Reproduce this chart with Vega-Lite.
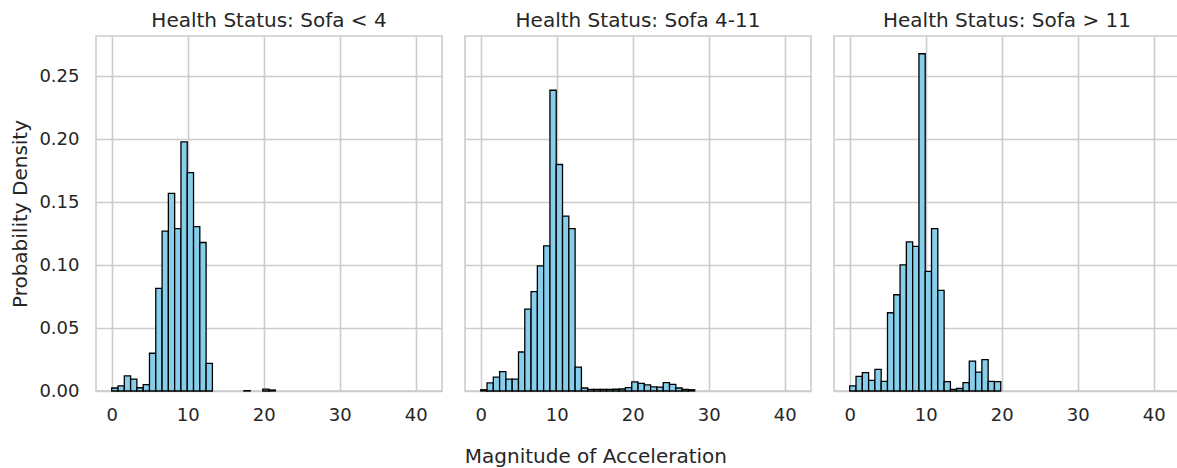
{
  "$schema": "https://vega.github.io/schema/vega-lite/v6.json",
  "padding": {"left": 10, "top": 11, "right": 0, "bottom": 2},
  "background": "white",
  "title": {"text": "Magnitude of Acceleration", "orient": "bottom", "anchor": "middle", "fontSize": 20, "fontWeight": "normal", "color": "#262626", "font": "DejaVu Sans", "offset": 23},
  "data": {"values": [
    {"panel": "Health Status: Sofa < 4", "start": 0, "end": 0.828, "density": 0.0024},
    {"panel": "Health Status: Sofa < 4", "start": 0.828, "end": 1.656, "density": 0.004},
    {"panel": "Health Status: Sofa < 4", "start": 1.656, "end": 2.484, "density": 0.012},
    {"panel": "Health Status: Sofa < 4", "start": 2.484, "end": 3.312, "density": 0.0095},
    {"panel": "Health Status: Sofa < 4", "start": 3.312, "end": 4.14, "density": 0.0026},
    {"panel": "Health Status: Sofa < 4", "start": 4.14, "end": 4.968, "density": 0.005},
    {"panel": "Health Status: Sofa < 4", "start": 4.968, "end": 5.796, "density": 0.030},
    {"panel": "Health Status: Sofa < 4", "start": 5.796, "end": 6.624, "density": 0.0815},
    {"panel": "Health Status: Sofa < 4", "start": 6.624, "end": 7.452, "density": 0.127},
    {"panel": "Health Status: Sofa < 4", "start": 7.452, "end": 8.28, "density": 0.157},
    {"panel": "Health Status: Sofa < 4", "start": 8.28, "end": 9.108, "density": 0.129},
    {"panel": "Health Status: Sofa < 4", "start": 9.108, "end": 9.936, "density": 0.198},
    {"panel": "Health Status: Sofa < 4", "start": 9.936, "end": 10.764, "density": 0.1736},
    {"panel": "Health Status: Sofa < 4", "start": 10.764, "end": 11.592, "density": 0.1306},
    {"panel": "Health Status: Sofa < 4", "start": 11.592, "end": 12.42, "density": 0.118},
    {"panel": "Health Status: Sofa < 4", "start": 12.42, "end": 13.248, "density": 0.0219},
    {"panel": "Health Status: Sofa < 4", "start": 17.388, "end": 18.216, "density": 0.0003},
    {"panel": "Health Status: Sofa < 4", "start": 19.872, "end": 20.7, "density": 0.0015},
    {"panel": "Health Status: Sofa < 4", "start": 20.7, "end": 21.528, "density": 0.0008},

    {"panel": "Health Status: Sofa 4-11", "start": 0, "end": 0.828, "density": 0.001},
    {"panel": "Health Status: Sofa 4-11", "start": 0.828, "end": 1.656, "density": 0.0064},
    {"panel": "Health Status: Sofa 4-11", "start": 1.656, "end": 2.484, "density": 0.011},
    {"panel": "Health Status: Sofa 4-11", "start": 2.484, "end": 3.312, "density": 0.0154},
    {"panel": "Health Status: Sofa 4-11", "start": 3.312, "end": 4.14, "density": 0.0095},
    {"panel": "Health Status: Sofa 4-11", "start": 4.14, "end": 4.968, "density": 0.0095},
    {"panel": "Health Status: Sofa 4-11", "start": 4.968, "end": 5.796, "density": 0.031},
    {"panel": "Health Status: Sofa 4-11", "start": 5.796, "end": 6.624, "density": 0.065},
    {"panel": "Health Status: Sofa 4-11", "start": 6.624, "end": 7.452, "density": 0.079},
    {"panel": "Health Status: Sofa 4-11", "start": 7.452, "end": 8.28, "density": 0.0995},
    {"panel": "Health Status: Sofa 4-11", "start": 8.28, "end": 9.108, "density": 0.1154},
    {"panel": "Health Status: Sofa 4-11", "start": 9.108, "end": 9.936, "density": 0.239},
    {"panel": "Health Status: Sofa 4-11", "start": 9.936, "end": 10.764, "density": 0.180},
    {"panel": "Health Status: Sofa 4-11", "start": 10.764, "end": 11.592, "density": 0.139},
    {"panel": "Health Status: Sofa 4-11", "start": 11.592, "end": 12.42, "density": 0.129},
    {"panel": "Health Status: Sofa 4-11", "start": 12.42, "end": 13.248, "density": 0.019},
    {"panel": "Health Status: Sofa 4-11", "start": 13.248, "end": 14.076, "density": 0.0024},
    {"panel": "Health Status: Sofa 4-11", "start": 14.076, "end": 14.904, "density": 0.0013},
    {"panel": "Health Status: Sofa 4-11", "start": 14.904, "end": 15.732, "density": 0.0013},
    {"panel": "Health Status: Sofa 4-11", "start": 15.732, "end": 16.56, "density": 0.0013},
    {"panel": "Health Status: Sofa 4-11", "start": 16.56, "end": 17.388, "density": 0.0013},
    {"panel": "Health Status: Sofa 4-11", "start": 17.388, "end": 18.216, "density": 0.0014},
    {"panel": "Health Status: Sofa 4-11", "start": 18.216, "end": 19.044, "density": 0.0016},
    {"panel": "Health Status: Sofa 4-11", "start": 19.044, "end": 19.872, "density": 0.0027},
    {"panel": "Health Status: Sofa 4-11", "start": 19.872, "end": 20.7, "density": 0.0072},
    {"panel": "Health Status: Sofa 4-11", "start": 20.7, "end": 21.528, "density": 0.006},
    {"panel": "Health Status: Sofa 4-11", "start": 21.528, "end": 22.356, "density": 0.0048},
    {"panel": "Health Status: Sofa 4-11", "start": 22.356, "end": 23.184, "density": 0.0032},
    {"panel": "Health Status: Sofa 4-11", "start": 23.184, "end": 24.012, "density": 0.003},
    {"panel": "Health Status: Sofa 4-11", "start": 24.012, "end": 24.84, "density": 0.0066},
    {"panel": "Health Status: Sofa 4-11", "start": 24.84, "end": 25.668, "density": 0.0053},
    {"panel": "Health Status: Sofa 4-11", "start": 25.668, "end": 26.496, "density": 0.0024},
    {"panel": "Health Status: Sofa 4-11", "start": 26.496, "end": 27.324, "density": 0.0013},
    {"panel": "Health Status: Sofa 4-11", "start": 27.324, "end": 28.152, "density": 0.001},

    {"panel": "Health Status: Sofa > 11", "start": 0, "end": 0.828, "density": 0.004},
    {"panel": "Health Status: Sofa > 11", "start": 0.828, "end": 1.656, "density": 0.0116},
    {"panel": "Health Status: Sofa > 11", "start": 1.656, "end": 2.484, "density": 0.0146},
    {"panel": "Health Status: Sofa > 11", "start": 2.484, "end": 3.312, "density": 0.0085},
    {"panel": "Health Status: Sofa > 11", "start": 3.312, "end": 4.14, "density": 0.0172},
    {"panel": "Health Status: Sofa > 11", "start": 4.14, "end": 4.968, "density": 0.0077},
    {"panel": "Health Status: Sofa > 11", "start": 4.968, "end": 5.796, "density": 0.0622},
    {"panel": "Health Status: Sofa > 11", "start": 5.796, "end": 6.624, "density": 0.0765},
    {"panel": "Health Status: Sofa > 11", "start": 6.624, "end": 7.452, "density": 0.1003},
    {"panel": "Health Status: Sofa > 11", "start": 7.452, "end": 8.28, "density": 0.1185},
    {"panel": "Health Status: Sofa > 11", "start": 8.28, "end": 9.108, "density": 0.115},
    {"panel": "Health Status: Sofa > 11", "start": 9.108, "end": 9.936, "density": 0.268},
    {"panel": "Health Status: Sofa > 11", "start": 9.936, "end": 10.764, "density": 0.095},
    {"panel": "Health Status: Sofa > 11", "start": 10.764, "end": 11.592, "density": 0.129},
    {"panel": "Health Status: Sofa > 11", "start": 11.592, "end": 12.42, "density": 0.080},
    {"panel": "Health Status: Sofa > 11", "start": 12.42, "end": 13.248, "density": 0.0074},
    {"panel": "Health Status: Sofa > 11", "start": 13.248, "end": 14.076, "density": 0.0013},
    {"panel": "Health Status: Sofa > 11", "start": 14.076, "end": 14.904, "density": 0.002},
    {"panel": "Health Status: Sofa > 11", "start": 14.904, "end": 15.732, "density": 0.0066},
    {"panel": "Health Status: Sofa > 11", "start": 15.732, "end": 16.56, "density": 0.0238},
    {"panel": "Health Status: Sofa > 11", "start": 16.56, "end": 17.388, "density": 0.015},
    {"panel": "Health Status: Sofa > 11", "start": 17.388, "end": 18.216, "density": 0.0249},
    {"panel": "Health Status: Sofa > 11", "start": 18.216, "end": 19.044, "density": 0.0077},
    {"panel": "Health Status: Sofa > 11", "start": 19.044, "end": 19.872, "density": 0.0074}
  ]},
  "facet": {
    "column": {
      "field": "panel",
      "type": "nominal",
      "sort": ["Health Status: Sofa < 4", "Health Status: Sofa 4-11", "Health Status: Sofa > 11"],
      "header": {"title": null, "labelFontSize": 20, "labelColor": "#262626", "labelFont": "DejaVu Sans", "labelPadding": 4}
    }
  },
  "spacing": 21,
  "spec": {
    "width": 346,
    "height": 355,
    "mark": {"type": "bar", "fill": "#87ceeb", "stroke": "black", "strokeWidth": 1.3, "opacity": 1},
    "encoding": {
      "x": {"field": "start", "type": "quantitative",
        "scale": {"domain": [-2.07, 43.46], "nice": false, "zero": false},
        "axis": {"values": [0, 10, 20, 30, 40], "title": null, "labelPadding": 13}},
      "x2": {"field": "end"},
      "y": {"field": "density", "type": "quantitative",
        "scale": {"domain": [0, 0.2821], "nice": false, "zero": false},
        "axis": {"values": [0, 0.05, 0.1, 0.15, 0.2, 0.25], "format": ".2f", "title": "Probability Density", "labelPadding": 16, "titlePadding": 8}},
      "y2": {"datum": 0}
    }
  },
  "config": {
    "view": {"stroke": "#cccccc", "strokeWidth": 1.6},
    "axis": {
      "domain": false, "ticks": false, "grid": true,
      "gridColor": "#cccccc", "gridWidth": 1.6,
      "labelFont": "DejaVu Sans", "labelFontSize": 18, "labelColor": "#262626",
      "titleFont": "DejaVu Sans", "titleFontSize": 20, "titleFontWeight": "normal", "titleColor": "#262626"
    }
  }
}
